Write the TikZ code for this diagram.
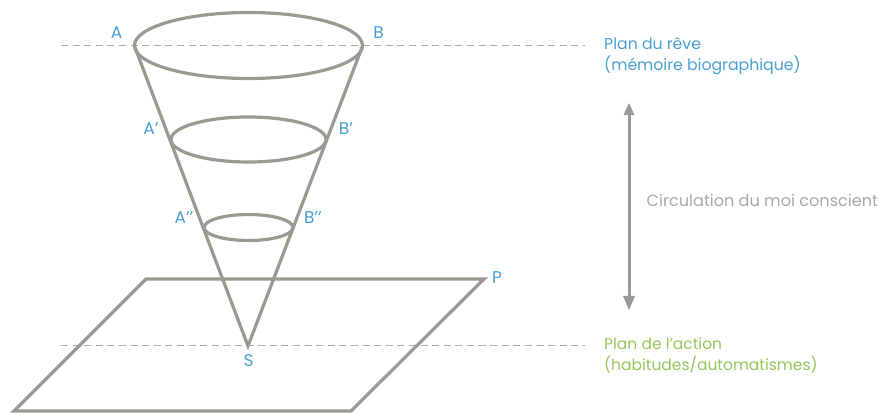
\documentclass[tikz,border=0pt]{standalone}
\usepackage{fontspec}
\usetikzlibrary{shapes.geometric}
\setmainfont{Poppins}
\definecolor{linegray}{HTML}{9A9A93}
\definecolor{dashgray}{HTML}{ABABA6}
\definecolor{textgray}{HTML}{A8A8A4}
\definecolor{lblue}{HTML}{4A9FD2}
\definecolor{lgreen}{HTML}{95C65A}
\tikzset{
  shape line/.style={draw=linegray,line width=3.2pt,line join=miter},
  guide/.style={draw=dashgray,line width=0.9pt,dash pattern=on 7pt off 4.6pt},
  lab/.style={text=lblue,font=\fontsize{17}{18}\selectfont,inner sep=0pt},
  plantext/.style={font=\fontsize{15.7}{21}\selectfont,inner sep=0pt,anchor=north west,align=left},
}
\begin{document}
\begin{tikzpicture}[x=1pt,y=-1pt]
\useasboundingbox (0,0) rectangle (879,414);
% dashed guides
\coordinate (g1a) at (61,45.5); \coordinate (g1b) at (585,45.5);
\coordinate (g2a) at (61,345.5); \coordinate (g2b) at (585,345.5);
\draw[guide] (g1a) -- (g1b);
\draw[guide] (g2a) -- (g2b);
% plane
\coordinate (p1) at (146,279); \coordinate (p2) at (484,279);
\coordinate (p3) at (351,411); \coordinate (p4) at (14,411);
\draw[shape line] (p1) -- (p2) -- (p3) -- (p4) -- cycle;
% ellipses
\node[shape line,ellipse,minimum width=228pt,minimum height=66pt,inner sep=0pt] (e1) at (248.5,45.5) {};
\node[shape line,ellipse,minimum width=155pt,minimum height=45pt,inner sep=0pt] (e2) at (248.5,139.5) {};
\node[shape line,ellipse,minimum width=89pt,minimum height=26pt,inner sep=0pt] (e3) at (248.5,227.5) {};
% cone
\coordinate (S) at (248,346);
\coordinate (coneA) at (135,47.5); \coordinate (coneB) at (362,47.5);
\draw[shape line] (coneA) -- (S) -- (coneB);
% labels
\node[lab] (A) at (116.5,33) {A};
\node[lab] (B) at (378.5,33) {B};
\node[lab] (A1) at (151,129) {A’};
\node[lab] (B1) at (346,129) {B’};
\node[lab] (A2) at (184,217.5) {A’’};
\node[lab] (B2) at (313,217.5) {B’’};
\node[lab] (P) at (497,277.5) {P};
\node[lab] (Slab) at (248.5,360.5) {S};
% side texts
\node[plantext,text=lblue] (reve) at (604,37.5) {Plan du rêve\\(mémoire biographique)};
\node[plantext,text=lgreen,font=\fontsize{15.5}{21}\selectfont] (action) at (604,337.5) {Plan de l’action\\(habitudes/automatismes)};
\node[plantext,text=textgray,anchor=west,font=\fontsize{16.1}{21}\selectfont] (circ) at (646.5,200.5) {Circulation du moi conscient};
% arrow
\coordinate (ar1) at (629,103); \coordinate (ar2) at (629,310);
\fill[linegray] (ar1) -- ++(5.5,12) -- ++(-11,0) -- cycle;
\fill[linegray] (ar2) -- ++(6,-14) -- ++(-12,0) -- cycle;
\draw[draw=linegray,line width=3pt] ([yshift=-10pt]ar1) -- ([yshift=10pt]ar2);
\end{tikzpicture}
\end{document}
